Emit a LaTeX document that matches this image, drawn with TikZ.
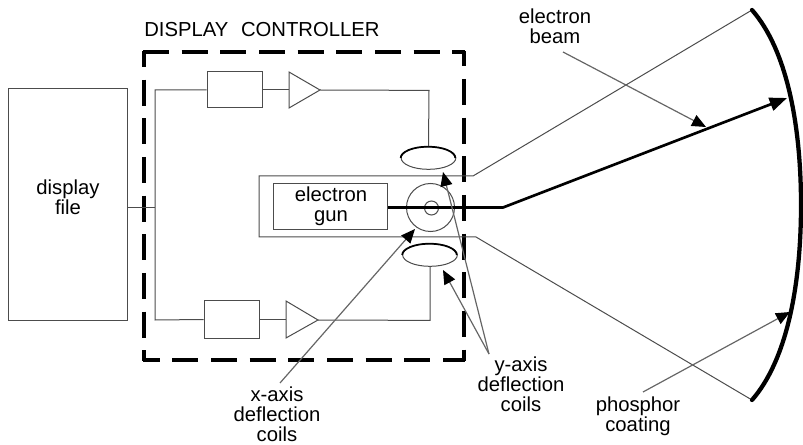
\documentclass[tikz,border=0pt]{standalone}
\usepackage{fontspec}
\setmainfont{Liberation Sans}
\usetikzlibrary{arrows.meta,shapes.geometric}
\definecolor{thinc}{gray}{0.3}
\definecolor{leadc}{gray}{0.4}
\tikzset{
 x=0.75pt,y=-0.75pt,
 wire/.style={draw=thinc,line width=0.75pt},
 lead/.style={draw=leadc,line width=0.9pt,-{Triangle[length=10.5pt,width=9pt,color=black]}},
 blank/.style={draw=thinc,line width=0.75pt,inner sep=0pt},
 coil/.style={draw=thinc,ellipse,line width=0.75pt,inner sep=0pt,minimum width=41pt,minimum height=17pt},
 round1/.style={draw=thinc,circle,line width=0.75pt,inner sep=0pt},
 lab/.style={font=\fontsize{15.2pt}{15pt}\selectfont,align=center,text=black,inner sep=0pt},
 ctrl/.style={draw=black,line width=2.6pt,dash pattern=on 19.5pt off 9.5pt},
}
\begin{document}
\begin{tikzpicture}
\useasboundingbox (0,0) rectangle (803,445);
% dashed controller box
\coordinate (tlc) at (143,52); \coordinate (trc) at (465,52);
\coordinate (blc) at (143,360); \coordinate (brc) at (465,360);
\coordinate (tlv) at (144,51); \coordinate (blv) at (144,361);
\coordinate (trv) at (464,51); \coordinate (brv) at (464,361);
\draw[ctrl] (tlc) -- (trc);
\draw[ctrl,dash phase=7pt] (blc) -- (brc);
\draw[ctrl,dash phase=7.5pt] (tlv) -- (blv);
\draw[ctrl,dash phase=8pt] (trv) -- (brv);
\node[lab,anchor=west] (title) at (144,30) {DISPLAY\hspace{0.35em} CONTROLLER};

\node[blank,minimum width=89.25pt,minimum height=174pt,anchor=north west] (file) at (8,88) {};
\node[lab] (filetxt) at (68,197) {display\\file};
\coordinate (bus) at (155,208);
\coordinate (bt) at (155,90);
\coordinate (bb) at (155,320);
\draw[wire] (file.east |- bus) -- (bus);
\node[blank,minimum width=41.25pt,minimum height=27pt] (reg1) at (234.5,90) {};
\node[blank,minimum width=41.25pt,minimum height=27.75pt] (reg2) at (231.5,319.5) {};
\coordinate (a1) at (289,72); \coordinate (a2) at (289,108); \coordinate (a3) at (320,90);
\coordinate (b1) at (286,301); \coordinate (b2) at (286,338); \coordinate (b3) at (318,320);
\draw[wire] (a1) -- (a2) -- (a3) -- cycle;
\draw[wire] (b1) -- (b2) -- (b3) -- cycle;
\node[coil] (ytop) at (428.5,158) {};
\node[coil] (ybot) at (430,255) {};
\draw[line width=1.3pt] (ytop.west) arc[start angle=180,end angle=360,x radius=27.3,y radius=11.3];
\draw[line width=1.3pt] (ybot.west) arc[start angle=180,end angle=360,x radius=27.3,y radius=11.3];
\draw[wire] (reg1.west) -- (bt) -- (bb) -- (reg2.west);
\draw[wire] (reg1.east) -- (a1 |- reg1.east);
\draw[wire] (reg2.east) -- (b1 |- reg2.east);
\coordinate (k1) at (429,90.4); \coordinate (k2) at (430,320.4);
\draw[wire] (a3) -- (k1) -- (ytop.north);
\draw[wire] (b3) -- (k2) -- (ybot.south);
% tube
\coordinate (tl) at (259,176); \coordinate (tr) at (473,176); \coordinate (st) at (752,10);
\coordinate (bl) at (259,237); \coordinate (br) at (476,237); \coordinate (sb) at (752,400);
\draw[wire] (st) -- (tr) -- (tl) -- (bl) -- (br) -- (sb);
\node[blank,minimum width=85.5pt,minimum height=34.5pt,anchor=north west] (gun) at (273,183) {};
\node[lab] (guntxt) at (331,206) {electron\\gun};
\node[round1,minimum size=36pt] (xc) at (430.5,207.5) {};
\node[round1,minimum size=10.5pt] (xi) at (431.5,208) {};
% screen
\draw[line width=3.2pt,line cap=round] (st) .. controls (787,50) and (801,125) .. (801,205) .. controls (801,285) and (787,360) .. (sb);
% beam
\coordinate (bk) at (503,207.5);
\coordinate (tip) at (787,98);
\draw[line width=2pt,-{Triangle[length=13pt,width=10pt]}] (gun.east |- bk) -- (bk) -- (tip);
% labels
\node[lab] (lbeam) at (555,26) {electron\\beam};
\node[lab] (lx) at (277,414) {x-axis\\deflection\\coils};
\node[lab] (ly) at (521,384) {y-axis\\deflection\\coils};
\node[lab] (lp) at (638,416) {phosphor\\coating};
\coordinate (sbeam) at (563,52); \coordinate (tbeam) at (706,127);
\coordinate (sx) at (280,383); \coordinate (tx) at (415,229);
\coordinate (sy) at (489,354); \coordinate (ty1) at (443,172); \coordinate (ty2) at (443,270);
\coordinate (sp) at (643,392); \coordinate (tp) at (790,312);
\draw[lead] (sbeam) -- (tbeam);
\draw[lead] (sx) -- (tx);
\draw[lead] (sy) -- (ty1);
\draw[lead] (sy) -- (ty2);
\draw[lead] (sp) -- (tp);
\end{tikzpicture}
\end{document}
